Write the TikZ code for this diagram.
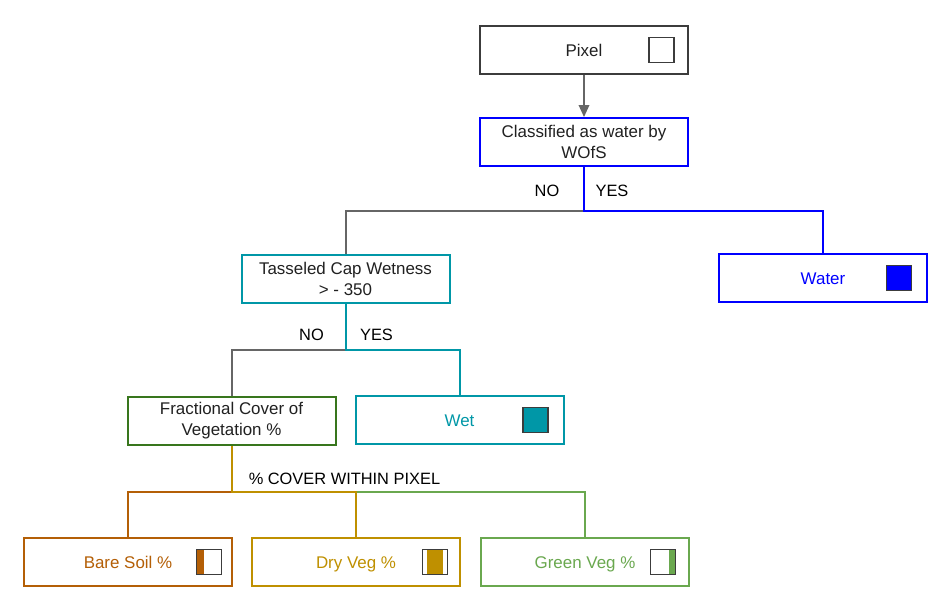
\documentclass[tikz,border=0pt]{standalone}
\usepackage{fontspec}
\setmainfont{Liberation Sans}
\usetikzlibrary{calc,arrows.meta}

\definecolor{pixgray}{HTML}{3C3C3C}
\definecolor{linegray}{HTML}{666666}
\definecolor{txtgray}{HTML}{212121}
\definecolor{wblue}{HTML}{0000FF}
\definecolor{tcw}{HTML}{0097A7}
\definecolor{fcgreen}{HTML}{38761D}
\definecolor{soil}{HTML}{B45F06}
\definecolor{dry}{HTML}{BF9000}
\definecolor{veg}{HTML}{6AA84F}

\tikzset{
  box/.style={draw, line width=1.5pt, fill=white, minimum width=156pt,
    minimum height=36pt, inner sep=0pt, align=center, text=txtgray,
    font=\fontsize{12.7}{15.75}\selectfont},
  single/.style={text height=9.6pt, text depth=0.3pt},
  swatch/.style={draw=pixgray, line width=1pt, minimum size=18.75pt, inner sep=0pt},
  leftbar/.style={path picture={\fill[#1] (path picture bounding box.north west)
    rectangle ([xshift=5.25pt]path picture bounding box.south west);}},
  midbar/.style={path picture={\fill[#1] ([xshift=3.5pt]path picture bounding box.north west)
    rectangle ([xshift=-3.5pt]path picture bounding box.south east);}},
  rightbar/.style={path picture={\fill[#1] ([xshift=-5.25pt]path picture bounding box.north east)
    rectangle (path picture bounding box.south east);}},
  link/.style={line width=1.5pt},
  lbl/.style={text=black, inner sep=0pt, font=\fontsize{12.3}{15}\selectfont}
}

\begin{document}
\begin{tikzpicture}[x=0.75pt,y=-0.75pt]
\useasboundingbox (0,0) rectangle (950,615);

% Nodi
\node[box, single, draw=pixgray, line width=2pt] (1) at (584,50) {Pixel};
\node[box, draw=wblue] (2) at (584,142) {Classified as water by\\WOfS};
\node[box, draw=tcw] (3) at (345.5,279) {Tasseled Cap Wetness\\> - 350};
\node[box, single, draw=wblue, text=wblue] (4) at (823,278) {Water};
\node[box, draw=fcgreen] (5) at (231.5,421) {Fractional Cover of\\Vegetation \%};
\node[box, single, draw=tcw, text=tcw] (6) at (459.5,420) {Wet};
\node[box, single, draw=soil, text=soil] (7) at (128,562) {Bare Soil \%};
\node[box, single, draw=dry, text=dry] (8) at (356,562) {Dry Veg \%};
\node[box, single, draw=veg, text=veg] (9) at (585,562) {Green Veg \%};

% Quadratini
\node[swatch] (s1) at ($(1.east)+(-28,0)$) {};
\node[swatch, fill=wblue] (s4) at ($(4.east)+(-29,0)$) {};
\node[swatch, fill=tcw] (s6) at ($(6.east)+(-29,0)$) {};
\node[swatch, leftbar=soil] (s7) at ($(7.east)+(-24,0)$) {};
\node[swatch, midbar=dry] (s8) at ($(8.east)+(-26,0)$) {};
\node[swatch, rightbar=veg] (s9) at ($(9.east)+(-27,0)$) {};

% Incroci
\coordinate (j1) at ($(2.south)+(0,44)$);
\coordinate (j2) at ($(3.south)+(0,46)$);
\coordinate (j3) at ($(5.south)+(0,46)$);

% Archi
\draw[linegray, line width=1pt, -{Triangle[length=9pt,width=8pt]}] (1) -- (2);
\draw[link, linegray] (j1) -| (3);
\draw[link, wblue] (2) -- (j1) -| (4);
\draw[link, linegray] (j2) -| (5);
\draw[link, tcw] (3) -- (j2) -| (6);
\draw[link, veg] (j3) -| (9);
\draw[link, soil] (j3) -| (7);
\draw[link, dry] (5) -- (j3) -| (8);

% Etichette
\node[lbl] (no1) at ($(j1)+(-37,-20)$) {NO};
\node[lbl] (yes1) at ($(j1)+(28,-20)$) {YES};
\node[lbl] (no2) at ($(j2)+(-34,-15)$) {NO};
\node[lbl] (yes2) at ($(j2)+(31,-15)$) {YES};
\node[lbl, anchor=west] (cov) at ($(j3)+(17,-13)$) {\% COVER WITHIN PIXEL};
\end{tikzpicture}
\end{document}
